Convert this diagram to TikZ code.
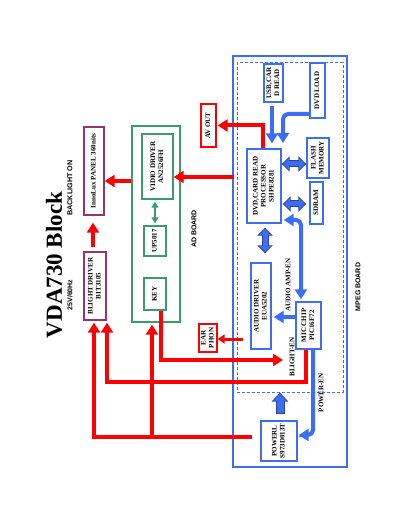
\documentclass[tikz,border=0pt]{standalone}
\usepackage{fontspec}
\setmainfont{Liberation Serif}
\setsansfont{Liberation Sans}
\usetikzlibrary{arrows.meta,calc}
\definecolor{myred}{RGB}{255,0,0}
\definecolor{myblue}{RGB}{60,110,245}
\definecolor{dblue}{RGB}{45,65,150}
\definecolor{mygreen}{RGB}{60,155,110}
\definecolor{mypurple}{RGB}{150,50,110}
\newcommand\rtxt[1]{\rotatebox{90}{\begin{tabular}{@{}c@{}}#1\end{tabular}}}
\begin{document}
\begin{tikzpicture}[x=1pt,y=-1pt,
  box/.style={draw, line width=1.4pt, inner sep=0pt, fill=white, font=\bfseries\fontsize{7}{8}\selectfont},
  bbox/.style={box, draw=myblue},
  gbox/.style={box, draw=mygreen},
  pbox/.style={box, draw=mypurple},
  rbox/.style={box, draw=myred},
  sz/.style 2 args={minimum width=#1pt, minimum height=#2pt},
  lbl/.style={rotate=90, inner sep=0pt, font=\bfseries\fontsize{7}{8}\selectfont},
  slbl/.style={rotate=90, inner sep=0pt, font=\sffamily\bfseries\fontsize{7}{8}\selectfont},
  rarrow/.style={draw=myred, line width=4pt, -{Triangle[width=12pt,length=10pt]}},
  bline/.style={draw=myblue, line width=4pt, -{Triangle[width=12pt,length=10pt]}},
  dblout/.style={draw=dblue, line width=7pt, {Triangle[width=15pt,length=8pt]}-{Triangle[width=15pt,length=8pt]}},
  dblin/.style={draw=myblue, line width=5pt, {Triangle[width=11.5pt,length=6pt]}-{Triangle[width=11.5pt,length=6pt]}, shorten <=1.3pt, shorten >=1.3pt},
]
\fill[white] (0,0) rectangle (400,518);
\useasboundingbox (0,0) rectangle (400,518);

% boards
\node[draw=myblue, line width=1.8pt, sz={114}{411}] (mpeg) at (290,261.5) {};
\node[draw=myblue, line width=1pt, dash pattern=on 3pt off 2pt, sz={106}{329}] (inner) at (290,227.5) {};
\node[draw=mygreen, line width=1.4pt, sz={48}{196}] (adb) at (156,224) {};

% blue boxes
\node[bbox, sz={19}{38}] (usb) at (273.5,83) {\rtxt{USB,CAR\\D READ}};
\node[bbox, sz={15}{55}] (dvdload) at (317.5,90.5) {\rtxt{DVD LOAD}};
\node[bbox, sz={34}{74}] (proc) at (264,186) {\rtxt{DVD,CARD READ\\PROCESSOR\\SHPE8281}};
\node[bbox, sz={22}{40}] (flash) at (318,158) {\rtxt{FLASH\\MEMORY}};
\node[bbox, sz={13}{42}] (sdram) at (316.5,203) {\rtxt{SDRAM}};
\node[bbox, sz={20}{86}] (audio) at (261,306) {\rtxt{AUDIO DRIVER\\EUA5202}};
\node[bbox, sz={25}{47}] (mic) at (308.5,325.5) {\rtxt{MIC CHIP\\PIC16F72}};
\node[bbox, sz={36}{40}] (power) at (279,441) {\rtxt{POWERL\\S973D013T}};

% red boxes
\node[rbox, sz={15}{43}] (avout) at (208.5,125.5) {\rtxt{AV OUT}};
\node[rbox, sz={18}{28}] (ear) at (208,338) {\rtxt{EAR\\PHON}};

% green boxes
\node[gbox, sz={31}{65}] (video) at (157.5,166.5) {\rtxt{VIDIO DRIVER\\AN2526FH}};
\node[gbox, sz={22}{30}] (ups) at (155,241) {\rtxt{UP5017}};
\node[gbox, sz={22}{32}] (key) at (155,294) {\rtxt{KEY}};

% purple boxes
\node[pbox, sz={20}{88}] (panel) at (94,171) {\rtxt{InnoLux PANEL 360nits}};
\node[pbox, sz={22}{68}] (blight) at (95,286) {\rtxt{BLIGHT DRIVER\\BIT3105}};

% labels
\node[rotate=90, inner sep=0pt, font=\bfseries\fontsize{23}{23}\selectfont] (title) at (54,265) {VDA730 Block};
\node[slbl, font=\sffamily\bfseries\fontsize{7.2}{8}\selectfont] (blon) at (70,188) {BACKLIGHT ON};
\node[slbl] (volt) at (70,295) {25V/60Hz};
\node[slbl] (adlbl) at (194,229) {AD BOARD};
\node[slbl] (mpeglbl) at (358,287) {MPEG BOARD};
\node[lbl] (ampen) at (288,285) {AUDIO AMP-EN};
\node[lbl] (blen) at (292,357) {BLIGHT-EN};
\node[lbl] (pwen) at (321,393) {POWER-EN};

% helper coordinates
\coordinate (vsrc) at (234,177);
\coordinate (y181) at (0,181);
\coordinate (ktip) at (283,360);
\coordinate (pb) at (152,437);
\coordinate (es) at (243,339);
\coordinate (dl) at (283,149);
\coordinate (pf) at (0,164);
\coordinate (ps) at (0,204);

% red connectors
\draw[rarrow, shorten >=1pt] ([xshift=-1pt]proc.north) |- (avout.east);
\draw[rarrow] (vsrc) -- (vsrc -| video.east);
\draw[rarrow] (adb.west |- y181) -- (panel.east |- y181);
\draw[rarrow, shorten <=4pt, shorten >=7pt] ([xshift=-1pt]panel.south |- blight.north) -- ([xshift=-1pt]panel.south);
\draw[rarrow] ([xshift=6pt]key.south) |- (ktip);
\draw[rarrow, shorten >=2pt] ([xshift=-2.5pt]mic.south) -- ++(0,32) -| ([xshift=12pt]blight.south);
\draw[rarrow, shorten <=8pt, shorten >=2pt] ([yshift=4pt]power.west) -| ([xshift=-1pt]blight.south);
\draw[rarrow, shorten >=2pt] (pb) -- (pb |- adb.south);
\draw[draw=myred, line width=3pt, -{Triangle[width=9pt,length=7pt]}] (es) -- (es -| ear.east);

% blue connectors
\draw[bline, shorten <=3pt, shorten >=5pt] ([xshift=-1.5pt]usb.south) -- ([xshift=-1.5pt]usb.south |- proc.north);
\draw[bline, rounded corners=5pt, shorten >=6pt] ([yshift=-23.5pt]dvdload.west) -| (dl);
\draw[dblout] (proc.east |- pf) -- (flash.west |- pf);
\draw[dblin] (proc.east |- pf) -- (flash.west |- pf);
\draw[dblout, shorten <=1pt, shorten >=3pt] (proc.east |- ps) -- (sdram.west |- ps);
\draw[dblin, shorten <=2.3pt, shorten >=4.3pt] (proc.east |- ps) -- (sdram.west |- ps);
\draw[dblout, shorten <=4pt, shorten >=9pt] ([xshift=1pt]proc.south) -- ([xshift=1pt]proc.south |- audio.north);
\draw[dblin, shorten <=5.3pt, shorten >=10.3pt] ([xshift=1pt]proc.south) -- ([xshift=1pt]proc.south |- audio.north);
\draw[draw=myblue, line width=4pt, rounded corners=5pt, {Triangle[width=12pt,length=10pt]}-{Triangle[width=12pt,length=10pt]}, shorten <=2pt, shorten >=2pt] ([yshift=-34pt]proc.east) -| ([xshift=-7.5pt]mic.north);
\draw[bline, shorten >=2pt] ([yshift=8.5pt]mic.west) -- ([yshift=8.5pt]mic.west -| audio.east);
\draw[bline, rounded corners=5pt, shorten >=1pt] ([xshift=4.5pt]mic.south) |- ([yshift=6pt]power.east);
\draw[draw=dblue, line width=9pt, -{Triangle[width=16pt,length=9pt]}, shorten <=6pt] ([xshift=1pt]power.north) -- ([xshift=1pt]power.north |- inner.south);
\draw[draw=myblue, line width=7pt, -{Triangle[width=12.5pt,length=7pt]}, shorten <=7.2pt, shorten >=1.3pt] ([xshift=1pt]power.north) -- ([xshift=1pt]power.north |- inner.south);

% green connector
\draw[draw=mygreen, line width=2.5pt, {Triangle[width=7pt,length=6pt]}-{Triangle[width=7pt,length=6pt]}, shorten <=2pt, shorten >=2pt] ([xshift=-2.5pt]video.south) -- ([xshift=-2.5pt]video.south |- ups.north);
\end{tikzpicture}
\end{document}
